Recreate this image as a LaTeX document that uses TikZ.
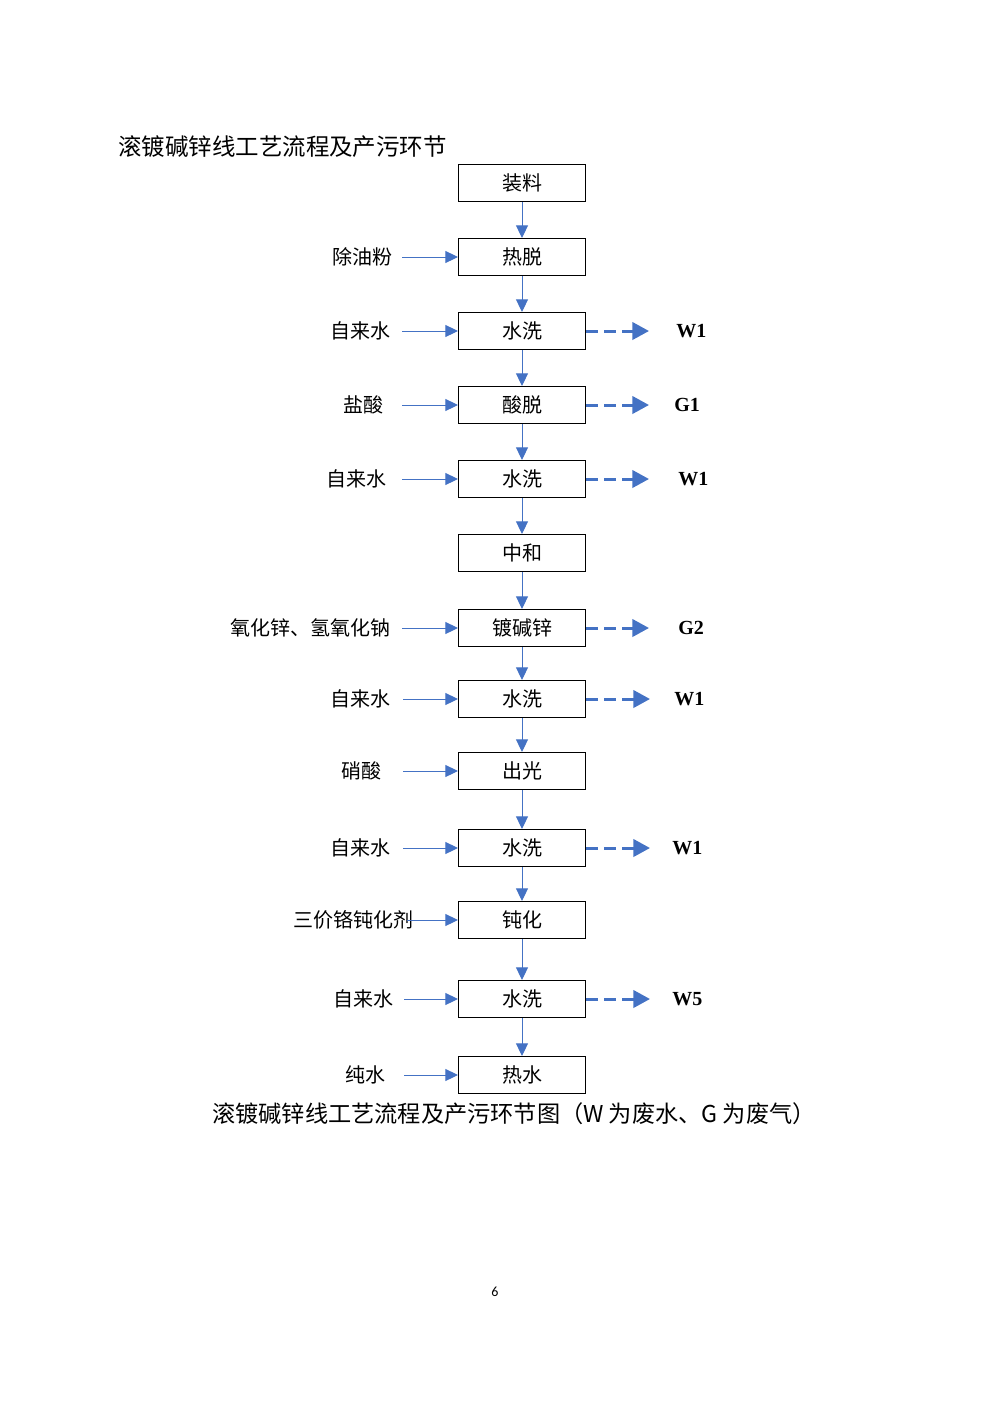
\documentclass[tikz,border=0pt]{standalone}
\usepackage{fontspec}
\setmainfont{Liberation Serif}
\newfontfamily\cjk{Noto Sans CJK SC}
\newfontfamily\pagefont{Carlito}
\usetikzlibrary{arrows.meta}
\definecolor{flowblue}{HTML}{4472C4}

\tikzset{
  stepbox/.style={draw=black, line width=0.75pt, minimum width=95.25pt,
    minimum height=27.75pt, inner sep=0pt, font=\cjk\fontsize{15}{15}\selectfont},
  feedlabel/.style={inner sep=0pt, anchor=east, font=\cjk\fontsize{15}{15}\selectfont},
  wastelabel/.style={inner sep=0pt, anchor=west, font=\bfseries\fontsize{15}{15}\selectfont},
  flowarrow/.style={draw=flowblue, line width=0.75pt, -{Triangle[length=9.5pt,width=9pt]}},
  wastearrow/.style={draw=flowblue, line width=2.25pt, dash pattern=on 9pt off 4.5pt,
    -{Triangle[length=12.5pt,width=13pt]}},
}

\begin{document}
\begin{tikzpicture}[x=0.75pt, y=-0.75pt]
  \useasboundingbox (0,0) rectangle (992,1403);

  % headings
  \node[anchor=west, inner sep=0pt, font=\cjk\fontsize{17.6}{17.6}\selectfont]
    (title) at (118,147) {滚镀碱锌线工艺流程及产污环节};
  \node[inner sep=0pt, font=\cjk\fontsize{17.4}{17.4}\selectfont]
    (caption) at (514,1114) {滚镀碱锌线工艺流程及产污环节图（W 为废水、G 为废气）};
  \node[inner sep=0pt, font=\pagefont\fontsize{10.5}{10.5}\selectfont] (pageno) at (495,1292) {6};

  % process steps
  \node[stepbox] (b1)  at (522,183)  {装料};
  \node[stepbox] (b2)  at (522,257)  {热脱};
  \node[stepbox] (b3)  at (522,331)  {水洗};
  \node[stepbox] (b4)  at (522,405)  {酸脱};
  \node[stepbox] (b5)  at (522,479)  {水洗};
  \node[stepbox] (b6)  at (522,553)  {中和};
  \node[stepbox] (b7)  at (522,628)  {镀碱锌};
  \node[stepbox] (b8)  at (522,699)  {水洗};
  \node[stepbox] (b9)  at (522,771)  {出光};
  \node[stepbox] (b10) at (522,848)  {水洗};
  \node[stepbox] (b11) at (522,920)  {钝化};
  \node[stepbox] (b12) at (522,999)  {水洗};
  \node[stepbox] (b13) at (522,1075) {热水};

  % main flow
  \foreach \a/\b in {b1/b2,b2/b3,b3/b4,b4/b5,b5/b6,b6/b7,b7/b8,b8/b9,b9/b10,b10/b11,b11/b12,b12/b13}
    \draw[flowarrow] (\a.south) -- (\b.north);

  % feed materials
  \node[feedlabel] (f2)  at (393,257)  {除油粉};
  \node[feedlabel] (f3)  at (391,331)  {自来水};
  \node[feedlabel] (f4)  at (384,405)  {盐酸};
  \node[feedlabel] (f5)  at (387,479)  {自来水};
  \node[feedlabel] (f7)  at (391,628)  {氧化锌、氢氧化钠};
  \node[feedlabel] (f8)  at (391,699)  {自来水};
  \node[feedlabel] (f9)  at (382,771)  {硝酸};
  \node[feedlabel] (f10) at (391,848)  {自来水};
  \node[feedlabel] (f11) at (414,920)  {三价铬钝化剂};
  \node[feedlabel] (f12) at (394,999)  {自来水};
  \node[feedlabel] (f13) at (386,1075) {纯水};

  \coordinate (i2)  at (402,257);
  \coordinate (i3)  at (402,331);
  \coordinate (i4)  at (402,405);
  \coordinate (i5)  at (402,479);
  \coordinate (i7)  at (402,628);
  \coordinate (i8)  at (403,699);
  \coordinate (i9)  at (403,771);
  \coordinate (i10) at (403,848);
  \coordinate (i11) at (407,920);
  \coordinate (i12) at (404,999);
  \coordinate (i13) at (404,1075);
  \foreach \n in {2,3,4,5,7,8,9,10,11,12,13}
    \draw[flowarrow] (i\n) -- (b\n.west);

  % emissions
  \coordinate (o3)  at (649,331);
  \coordinate (o4)  at (649,405);
  \coordinate (o5)  at (649,479);
  \coordinate (o7)  at (649,628);
  \coordinate (o8)  at (650,699);
  \coordinate (o10) at (650,848);
  \coordinate (o12) at (650,999);
  \foreach \n in {3,4,5,7,8,10,12}
    \draw[wastearrow] (b\n.east) -- (o\n);

  \node[wastelabel] (w3)  at (676,331) {W1};
  \node[wastelabel] (w4)  at (674,405) {G1};
  \node[wastelabel] (w5)  at (678,479) {W1};
  \node[wastelabel] (w7)  at (678,628) {G2};
  \node[wastelabel] (w8)  at (674,699) {W1};
  \node[wastelabel] (w10) at (672,848) {W1};
  \node[wastelabel] (w12) at (672,999) {W5};
\end{tikzpicture}
\end{document}
